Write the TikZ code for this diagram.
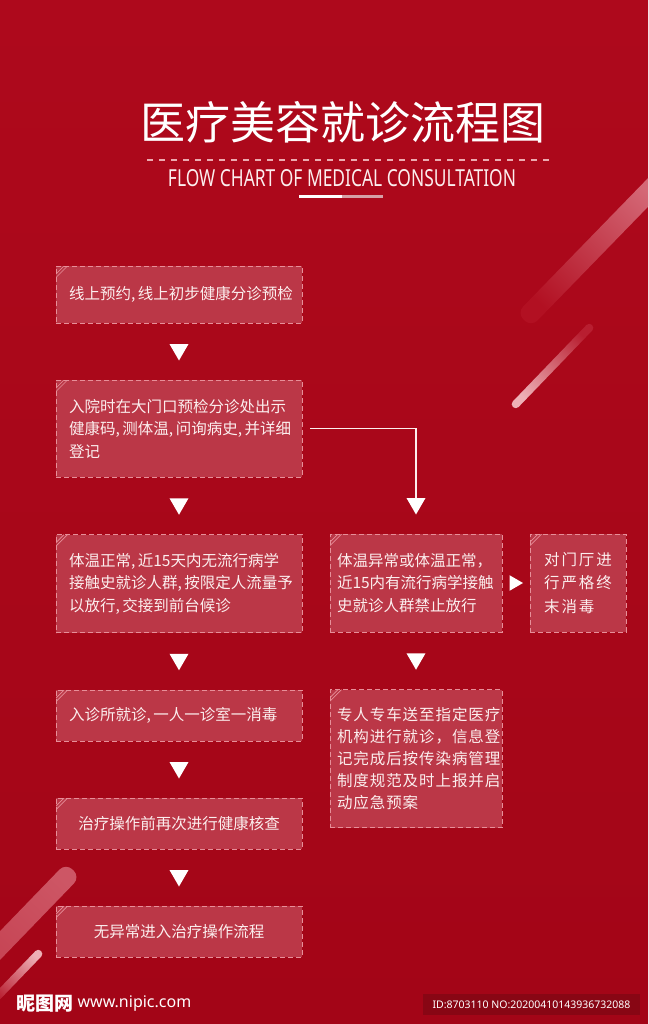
\documentclass[tikz,border=0pt]{standalone}
\usepackage{fontspec}
\usepackage{graphicx}
\setmainfont{Noto Sans CJK SC}
\newfontfamily\latinfont{Noto Sans}
\newfontfamily\loosecjk[LetterSpace=6]{Noto Sans CJK SC}
\newfontfamily\spacedcjk[LetterSpace=12]{Noto Sans CJK SC}
\usetikzlibrary{shapes.geometric,calc}

\definecolor{bgtop}{RGB}{174,9,28}
\definecolor{bgbot}{RGB}{163,5,23}
\definecolor{boxfill}{RGB}{187,55,71}
\definecolor{boxline}{RGB}{231,143,153}
\definecolor{softwhite}{RGB}{252,238,238}
\definecolor{dashpink}{RGB}{236,170,176}
\definecolor{barpink}{RGB}{214,160,166}
\definecolor{streakhi}{RGB}{212,104,118}
\definecolor{streaklo}{RGB}{178,16,34}
\definecolor{glowhi}{RGB}{238,176,182}
\definecolor{glowlo}{RGB}{184,30,48}
\definecolor{idbox}{RGB}{136,6,20}

\tikzset{
  box/.style={draw=boxline, fill=boxfill, line width=0.9pt, dash pattern=on 5pt off 3pt,
    text=softwhite, inner sep=0pt, font=\fontsize{15.5}{22.5}\selectfont,
    path picture={\draw[boxline, solid, line width=0.7pt]
      ([shift={(0pt,-8pt)}]path picture bounding box.north west) -- ++(8pt,8pt)
      ([shift={(0pt,-11.5pt)}]path picture bounding box.north west) -- ++(11.5pt,11.5pt);}},
  wide/.style={box, minimum width=246pt, text width=220pt},
  narrow/.style={box, minimum width=172pt, text width=158pt},
  downtri/.style={regular polygon, regular polygon sides=3, shape border rotate=180,
    fill=white, minimum size=22pt, inner sep=0pt, yshift=2pt},
  righttri/.style={regular polygon, regular polygon sides=3, shape border rotate=270,
    fill=white, minimum size=18pt, inner sep=0pt, xshift=-2pt},
  elbow/.style={draw=softwhite, line width=1.6pt},
}

\begin{document}
\begin{tikzpicture}[x=1pt, y=-1pt]
  \useasboundingbox (0,0) rectangle (648,1024);
  \clip (0,0) rectangle (648,1024);
  \shade[top color=bgtop, bottom color=bgbot] (0,0) rectangle (648,1024);

  % light streaks
  \coordinate (s1a) at (524,320); \coordinate (s1b) at (664,176);
  \shade[top color=streakhi, bottom color=streaklo, shading angle=-44, rounded corners=9pt]
    ($(s1a)!10pt!90:(s1b)$) -- ($(s1b)!10pt!-90:(s1a)$) -- ($(s1b)!10pt!90:(s1a)$) -- ($(s1a)!10pt!-90:(s1b)$) -- cycle;
  \coordinate (s2a) at (513,407); \coordinate (s2b) at (592,325);
  \shade[top color=glowlo, bottom color=glowhi, shading angle=-44, rounded corners=3.8pt]
    ($(s2a)!4pt!90:(s2b)$) -- ($(s2b)!4pt!-90:(s2a)$) -- ($(s2b)!4pt!90:(s2a)$) -- ($(s2a)!4pt!-90:(s2b)$) -- cycle;
  \coordinate (s3a) at (-14,960); \coordinate (s3b) at (73,870);
  \shade[top color=streakhi!80!streaklo, bottom color=streakhi!60!streaklo, shading angle=-44, rounded corners=9pt]
    ($(s3a)!10pt!90:(s3b)$) -- ($(s3b)!10pt!-90:(s3a)$) -- ($(s3b)!10pt!90:(s3a)$) -- ($(s3a)!10pt!-90:(s3b)$) -- cycle;
  \coordinate (s4a) at (-8,1002); \coordinate (s4b) at (41,951);
  \shade[top color=glowhi, bottom color=glowlo, shading angle=-44, rounded corners=3.8pt]
    ($(s4a)!4pt!90:(s4b)$) -- ($(s4b)!4pt!-90:(s4a)$) -- ($(s4b)!4pt!90:(s4a)$) -- ($(s4a)!4pt!-90:(s4b)$) -- cycle;

  % heading
  \node[text=white, font=\fontsize{45}{45}\selectfont] (title) at (343,122.5) {医疗美容就诊流程图};
  \draw[dashpink, line width=1.2pt, dash pattern=on 6pt off 6pt] (147,160) -- (553,160);
  \node[text=softwhite] (subtitle) at (342,178.5)
    {\resizebox{348pt}{17pt}{\latinfont FLOW CHART OF MEDICAL CONSULTATION}};
  \draw[white, line width=3pt] (299,196.5) -- (342,196.5);
  \draw[barpink, line width=3pt] (342,196.5) -- (383,196.5);

  % steps
  \node[wide, minimum height=57pt, align=center] (online) at (179,294.5)
    {线上预约,\,线上初步健康分诊预检};
  \node[wide, minimum height=97pt, align=left] (entry) at (179,428.5)
    {入院时在大门口预检分诊处出示\\健康码,\,测体温,\,问询病史,\,并详细\\登记};
  \node[wide, minimum height=98pt, align=left] (normal) at (179,583.5)
    {体温正常,\,近15天内无流行病学\\接触史就诊人群,\,按限定人流量予\\以放行,\,交接到前台候诊};
  \node[narrow, minimum height=98pt, align=left] (warn) at (416,583)
    {体温异常或体温正常，\\近15内有流行病学接触\\史就诊人群禁止放行};
  \node[box, minimum width=96pt, minimum height=98pt, align=left,
    font=\spacedcjk\fontsize{15.5}{23.5}\selectfont] (disinfect) at (578,583)
    {对门厅进\\行严格终\\末消毒};
  \node[wide, minimum height=51pt, align=left] (clinic) at (179,715.5)
    {入诊所就诊,\,一人一诊室一消毒};
  \node[wide, minimum height=51pt, align=center] (recheck) at (179,823.5)
    {治疗操作前再次进行健康核查};
  \node[wide, minimum height=51pt, align=center] (treat) at (179,931.5)
    {无异常进入治疗操作流程};
  \node[narrow, minimum height=138pt, align=left,
    font=\loosecjk\fontsize{15.5}{22}\selectfont] (transfer) at (416,758.5)
    {专人专车送至指定医疗\\机构进行就诊，信息登\\记完成后按传染病管理\\制度规范及时上报并启\\动应急预案};

  % arrows
  \path (online) -- node[downtri] (t1) {} (entry);
  \path (entry) -- node[downtri] (t2) {} (normal);
  \path (entry.south -| warn.north) -- node[downtri] (t2r) {} (warn.north);
  \draw[elbow] ([xshift=8pt]entry.east) -| (t2r.north);
  \path (warn) -- node[righttri] (t3r) {} (disinfect);
  \path (warn) -- node[downtri] (t3m) {} (transfer);
  \path (normal) -- node[downtri] (t3) {} (clinic);
  \path (clinic) -- node[downtri] (t4) {} (recheck);
  \path (recheck) -- node[downtri] (t5) {} (treat);

  % watermark
  \node[anchor=west, text=white, inner sep=0pt, font=\bfseries\fontsize{19}{19}\selectfont] (logo) at (16,1004) {昵图网};
  \node[anchor=west, text=white, inner sep=0pt, font=\latinfont\bfseries\fontsize{16}{16}\selectfont] (site) at ([xshift=4pt]logo.east) {www.nipic.com};
  \node[fill=idbox, text=white, minimum width=217pt, minimum height=21pt, inner sep=0pt,
    font=\latinfont\fontsize{10.5}{10.5}\selectfont] (idtag) at (531.5,1004.5)
    {ID:8703110 NO:20200410143936732088};
\end{tikzpicture}
\end{document}
